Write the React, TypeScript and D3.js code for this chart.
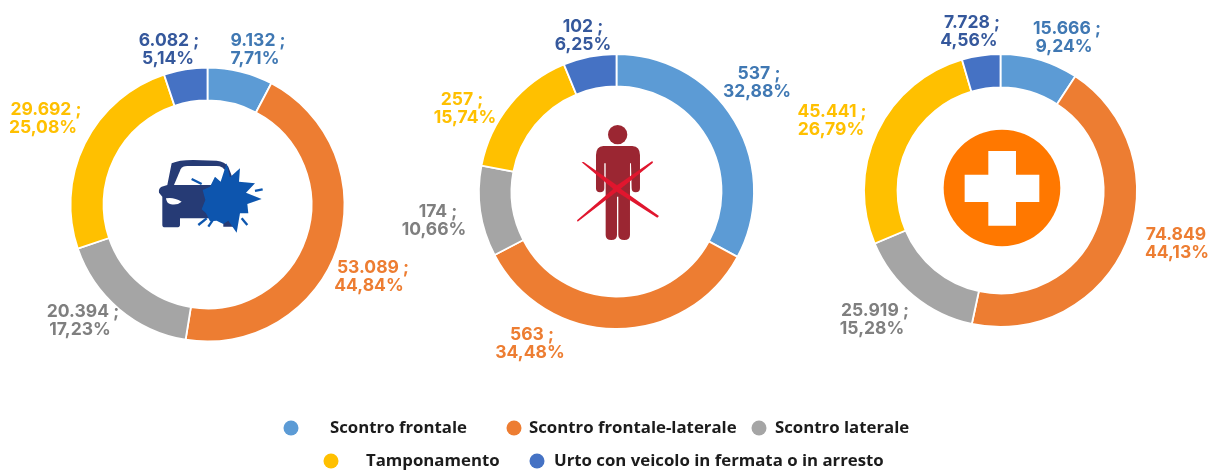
import React from "react";
import * as d3 from "d3";

const categories = ["Scontro frontale", "Scontro frontale-laterale", "Scontro laterale", "Tamponamento", "Urto con veicolo in fermata o in arresto"];
const colors = ["#5b9bd5", "#ed7d31", "#a5a5a5", "#ffc000", "#4472c4"];
const labelColors = ["#3f78b3", "#ed7d31", "#7f7f7f", "#ffc000", "#35589c"];

const incidenti = [9132, 53089, 20394, 29692, 6082];
const incidentiPct = ["7,71%", "44,84%", "17,23%", "25,08%", "5,14%"];
const morti = [537, 563, 174, 257, 102];
const mortiPct = ["32,88%", "34,48%", "10,66%", "15,74%", "6,25%"];
const feriti = [15666, 74849, 25919, 45441, 7728];
const feritiPct = ["9,24%", "44,13%", "15,28%", "26,79%", "4,56%"];

const it = d3.formatLocale({ decimal: ",", thousands: ".", grouping: [3], currency: ["€", ""] });
const fmt = it.format(",d");

const donuts = [
  { cx: 207.5, cy: 204.5, R: 137, r: 104, values: incidenti, pct: incidentiPct,
    pos: [[258, 255, 39], [373, 369, 266], [83, 80, 310], [46, 43, 108], [169, 168, 39]] },
  { cx: 616.5, cy: 191.5, R: 137.5, r: 105, values: morti, pct: mortiPct,
    pos: [[759, 757, 72], [532, 530, 333], [438, 434, 210], [462, 465, 98], [583, 583, 25]] },
  { cx: 1000.5, cy: 190.5, R: 136.5, r: 103, values: feriti, pct: feritiPct,
    pos: [[1067, 1064, 27], [1176, 1177, 233], [875, 872, 309], [832, 831, 110], [972, 969, 21]] },
];

const legendItems = [
  { i: 0, cx: 291, cy: 428, tx: 330 },
  { i: 1, cx: 514, cy: 428, tx: 529 },
  { i: 2, cx: 759, cy: 428, tx: 775 },
  { i: 3, cx: 331, cy: 461, tx: 366 },
  { i: 4, cx: 537, cy: 461, tx: 554 },
];

const labelFont = "Inter, 'Open Sans', sans-serif";

function Donut({ d }: { d: (typeof donuts)[number] }) {
  const pie = d3.pie<number>().sort(null)(d.values);
  const arc = d3.arc<d3.PieArcDatum<number>>().innerRadius(d.r).outerRadius(d.R);
  return (
    <g>
      <g transform={`translate(${d.cx},${d.cy})`}>
        {pie.map((p, i) => (
          <path key={i} d={arc(p) || ""} fill={colors[i]} stroke="#fff" strokeWidth={1.8} />
        ))}
      </g>
      {d.values.map((v, i) => {
        const [x1, x2, y] = d.pos[i];
        const sep = v === 74849 ? "" : " ;";
        return (
          <g key={i} fill={labelColors[i]} fontFamily={labelFont} fontWeight={700} fontSize={17.5} textAnchor="middle" dominantBaseline="central">
            <text x={x1} y={y}>{fmt(v) + sep}</text>
            <text x={x2} y={y + 18.5}>{d.pct[i]}</text>
          </g>
        );
      })}
    </g>
  );
}

function CarIcon() {
  const burst: [number, number][] = [[500,490],[510,532],[540,505],[537,545],[585,550],[558,578],[605,597],[562,612],[565,640],[540,640],[530,698],[505,662],[490,672],[470,662],[450,664],[438,640],[425,628],[436,600],[428,570],[450,560],[465,530],[482,545]];
  const dashes = [[395,537,425,552],[585,573,608,568],[415,675,440,655],[445,680,460,658],[545,655,562,675]];
  return (
    <g transform="translate(60,0) scale(0.3333)">
      <path fill="#263a75" d="M335 490Q355 480 400 480L470 482Q495 485 505 500L522 545L522 680L490 680L490 655L360 655L360 675Q360 682 350 682L315 682Q307 682 307 675L307 590L297 578Q295 565 305 560L322 555Z" />
      <path fill="#fff" d="M342 555L362 508Q367 498 382 498L470 498Q490 498 497 515L508 555Z" />
      <path fill="#fff" d="M318 595Q340 590 365 605Q350 618 330 612Q320 610 318 595Z" />
      <polygon fill="#0a55ae" points={burst.map(p => p.join(",")).join(" ")} />
      {dashes.map((s, i) => <line key={i} x1={s[0]} y1={s[1]} x2={s[2]} y2={s[3]} stroke="#0a55ae" strokeWidth={7} />)}
    </g>
  );
}

function PersonIcon() {
  return (
    <g transform="translate(470,0) scale(0.3333)">
      <circle cx={443} cy={404} r={29} fill="#9b2832" />
      <path fill="#9b2832" d="M400 438L487 438Q510 440 510 465L510 565Q510 577 497 577Q485 577 485 565L483 490L480 490L480 705Q480 720 463 720Q445 720 445 705L445 590L441 590L441 705Q441 720 424 720Q407 720 407 705L407 490L403 490L403 565Q403 577 390 577Q378 577 378 565L378 465Q378 440 400 438Z" />
      <polygon fill="#e0152d" points="335,487 341,486 441,556 547,483 549,488 452,566 567,648 562,653 440,575 323,665 321,661 430,567" />
    </g>
  );
}

function CrossIcon() {
  return (
    <g transform="translate(850,0) scale(0.3333)">
      <circle cx={456} cy={564} r={175} fill="#ff7800" />
      <path fill="#fff" d="M415 453H498V524H568V606H498V677H415V606H344V524H415Z" />
    </g>
  );
}

export default function App() {
  return (
    <svg width={1210} height={470} viewBox="0 0 1210 470" style={{ position: "absolute", left: 0, top: 0, background: "#fff" }}>
      <defs>
        <filter id="soft" x="-2%" y="-2%" width="104%" height="104%">
          <feGaussianBlur stdDeviation="0.45" />
        </filter>
      </defs>
      <g filter="url(#soft)">
        {donuts.map((d, i) => <Donut key={i} d={d} />)}
        <CarIcon />
        <PersonIcon />
        <CrossIcon />
        {legendItems.map(l => (
          <g key={l.i}>
            <circle cx={l.cx} cy={l.cy} r={7.5} fill={colors[l.i]} />
            <text x={l.tx} y={l.cy - 1.5} dominantBaseline="central" fontFamily="'Open Sans', sans-serif" fontWeight={700} fontSize={16.8} fill="#1a1a1a">{categories[l.i]}</text>
          </g>
        ))}
      </g>
    </svg>
  );
}
